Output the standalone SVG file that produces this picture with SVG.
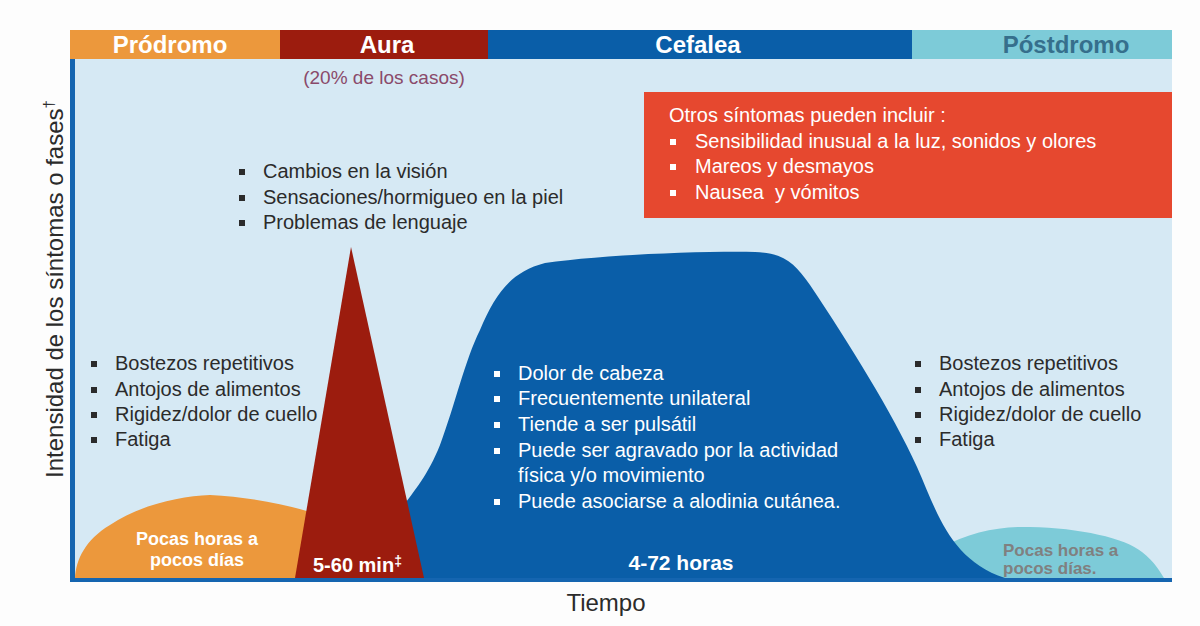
<svg xmlns="http://www.w3.org/2000/svg" width="1200" height="626" viewBox="0 0 1200 626">
<style>
text{font-family:"Liberation Sans",Arial,sans-serif}
.hdr{font-size:24px;font-weight:bold;fill:#fff;text-anchor:middle}
.li{font-size:20px;fill:#2b2b2b}
.liw{font-size:20px;fill:#fff;white-space:pre}
.dur{font-weight:bold;fill:#fff}
.bd{fill:#2b2b2b}
.bw{fill:#fff}
</style>
<rect x="0" y="0" width="1200" height="626" fill="#fdfdfd"/>
<g id="plot-area">
<rect x="72" y="59" width="1100" height="521" fill="#d6e9f4"/>
</g>
<g id="header">
<rect x="70" y="30" width="210" height="29" fill="#ec983c"/>
<rect x="280" y="30" width="208" height="29" fill="#9c1c0e"/>
<rect x="488" y="30" width="424" height="29" fill="#0a5ea8"/>
<rect x="912" y="30" width="260" height="29" fill="#7dcbd8"/>
<text class="hdr" x="170" y="53">Pródromo</text>
<text class="hdr" x="387" y="53">Aura</text>
<text class="hdr" x="698" y="53">Cefalea</text>
<text class="hdr" x="1066" y="53" style="fill:#366f8c">Póstdromo</text>
</g>
<g id="postdromo">
<path d="M 940 578 L 940 548 C 970 532, 1000 526, 1030 527 C 1080 528, 1125 538, 1142 552 C 1155 562, 1160 572, 1164 578 Z" fill="#7dcbd8"/>
</g>
<g id="cefalea">
<path d="M 395 578 L 400 510 C 415 490, 428 475, 440 445 C 455 405, 465 360, 480 330 C 495 295, 510 272, 545 263 C 600 255, 700 251, 755 252 C 785 253, 795 264, 810 285 C 850 345, 892 412, 917 467 C 937 512, 950 560, 1005 578 Z" fill="#0a5ea8"/>
</g>
<g id="prodromo">
<path d="M 75 578 C 76 560, 85 540, 110 525 C 140 505, 180 496, 210 495 C 250 497, 290 505, 320 515 L 320 578 Z" fill="#ec983c"/>
</g>
<g id="aura">
<path d="M 295 578 L 351 247 L 424 578 Z" fill="#9c1c0e"/>
</g>
<g id="axes">
<rect x="70" y="59" width="5" height="523" fill="#1565b0"/>
<rect x="70" y="578" width="1102" height="4" fill="#1565b0"/>
<text x="63" y="478" transform="rotate(-90 63 478)" style="font-size:24px;fill:#2b2b2b">Intensidad de los síntomas o fases<tspan style="font-size:15px" dy="-9">†</tspan></text>
<text x="606" y="611" style="font-size:24px;fill:#2b2b2b;text-anchor:middle">Tiempo</text>
</g>
<g id="aura-note">
<text x="384" y="84" style="font-size:19px;fill:#8a4a6a;text-anchor:middle">(20% de los casos)</text>
</g>
<g id="otros-sintomas">
<rect x="644" y="92" width="528" height="126" fill="#e6482f"/>
<text class="liw" x="669" y="122">Otros síntomas pueden incluir :</text>
<rect class="bw" x="670" y="139" width="6" height="6"/>
<text class="liw" x="695" y="148">Sensibilidad inusual a la luz, sonidos y olores</text>
<rect class="bw" x="670" y="164" width="6" height="6"/>
<text class="liw" x="695" y="173">Mareos y desmayos</text>
<rect class="bw" x="670" y="190" width="6" height="6"/>
<text class="liw" x="695" y="199" xml:space="preserve">Nausea  y vómitos</text>
</g>
<g id="aura-list">
<rect class="bd" x="239" y="169" width="6" height="6"/>
<text class="li" x="263" y="178">Cambios en la visión</text>
<rect class="bd" x="239" y="195" width="6" height="6"/>
<text class="li" x="263" y="204">Sensaciones/hormigueo en la piel</text>
<rect class="bd" x="239" y="220" width="6" height="6"/>
<text class="li" x="263" y="229">Problemas de lenguaje</text>
</g>
<g id="prodromo-list">
<rect class="bd" x="91" y="361" width="6" height="6"/>
<text class="li" x="115" y="370">Bostezos repetitivos</text>
<rect class="bd" x="91" y="387" width="6" height="6"/>
<text class="li" x="115" y="396">Antojos de alimentos</text>
<rect class="bd" x="91" y="412" width="6" height="6"/>
<text class="li" x="115" y="421">Rigidez/dolor de cuello</text>
<rect class="bd" x="91" y="437" width="6" height="6"/>
<text class="li" x="115" y="446">Fatiga</text>
</g>
<g id="postdromo-list">
<rect class="bd" x="915" y="361" width="6" height="6"/>
<text class="li" x="939" y="370">Bostezos repetitivos</text>
<rect class="bd" x="915" y="387" width="6" height="6"/>
<text class="li" x="939" y="396">Antojos de alimentos</text>
<rect class="bd" x="915" y="412" width="6" height="6"/>
<text class="li" x="939" y="421">Rigidez/dolor de cuello</text>
<rect class="bd" x="915" y="437" width="6" height="6"/>
<text class="li" x="939" y="446">Fatiga</text>
</g>
<g id="cefalea-list">
<rect class="bw" x="494" y="371" width="6" height="6"/>
<text class="liw" x="518" y="380">Dolor de cabeza</text>
<rect class="bw" x="494" y="396" width="6" height="6"/>
<text class="liw" x="518" y="405">Frecuentemente unilateral</text>
<rect class="bw" x="494" y="422" width="6" height="6"/>
<text class="liw" x="518" y="431">Tiende a ser pulsátil</text>
<rect class="bw" x="494" y="448" width="6" height="6"/>
<text class="liw" x="518" y="457">Puede ser agravado por la actividad</text>
<text class="liw" x="518" y="482">física y/o movimiento</text>
<rect class="bw" x="494" y="499" width="6" height="6"/>
<text class="liw" x="518" y="508">Puede asociarse a alodinia cutánea.</text>
</g>
<g id="durations">
<text class="dur" x="197" y="545" style="font-size:18px;text-anchor:middle">Pocas horas a</text>
<text class="dur" x="197" y="566" style="font-size:18px;text-anchor:middle">pocos días</text>
<text class="dur" x="313" y="572" style="font-size:20px">5-60 min<tspan style="font-size:14px" dy="-6">‡</tspan></text>
<text class="dur" x="681" y="570" style="font-size:21px;text-anchor:middle">4-72 horas</text>
<text x="1003" y="556" style="font-size:17px;font-weight:bold;fill:#808080">Pocas horas a</text>
<text x="1003" y="574" style="font-size:17px;font-weight:bold;fill:#808080">pocos días.</text>
</g>
</svg>
